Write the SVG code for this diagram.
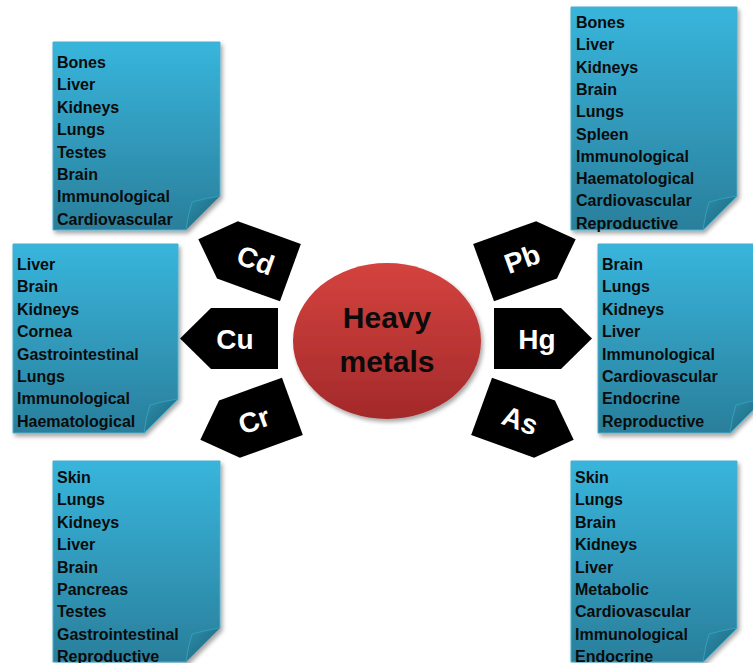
<svg xmlns="http://www.w3.org/2000/svg" xmlns:xlink="http://www.w3.org/1999/xlink" width="753" height="663" viewBox="0 0 753 663">
<defs>
<linearGradient id="boxGrad" x1="0" y1="0" x2="0" y2="1">
<stop offset="0" stop-color="#38b5dc"/>
<stop offset="1" stop-color="#2a7f9b"/>
</linearGradient>
<linearGradient id="flapGrad" x1="0" y1="0" x2="1" y2="1">
<stop offset="0" stop-color="#2c8fac"/>
<stop offset="1" stop-color="#1c6178"/>
</linearGradient>
<linearGradient id="circGrad" x1="0" y1="0" x2="0" y2="1">
<stop offset="0" stop-color="#d4433f"/>
<stop offset="1" stop-color="#a3292a"/>
</linearGradient>
<filter id="shadow" x="-10%" y="-10%" width="130%" height="130%">
<feDropShadow dx="2" dy="3" stdDeviation="2" flood-color="#000" flood-opacity="0.35"/>
</filter>
<polygon id="penL" points="-55,0 -24,-30.5 43,-30.5 43,30.5 -24,30.5"/>
<polygon id="penR" points="55,0 24,-30.5 -43,-30.5 -43,30.5 24,30.5"/>
</defs>
<style>
.box{fill:url(#boxGrad);stroke:#4aaecb;stroke-width:1;filter:url(#shadow)}
.flap{fill:url(#flapGrad);stroke:#3aa3c2;stroke-width:0.8}
.list{font-family:"Liberation Sans",Arial,sans-serif;font-weight:bold;font-size:16px;fill:#0b0b0b}
.pent{fill:#000}
.sym{font-family:"Liberation Sans",Arial,sans-serif;font-weight:bold;font-size:28px;fill:#fff;text-anchor:middle}
.hm{font-family:"Liberation Sans",Arial,sans-serif;font-weight:bold;font-size:30px;fill:#0b0b0b;text-anchor:middle}
</style>
<rect width="753" height="663" fill="#fff"/>
<g id="connectors"/>

<g id="box-cd">
<path class="box" d="M53,42 H220 V196 L186,230 H53 Z"/>
<path class="flap" d="M220,196 L186,230 Q188,214 192,202 Q206,198 220,196 Z"/>
<text class="list" x="57" y="68"><tspan x="57">Bones</tspan><tspan x="57" dy="22.4">Liver</tspan><tspan x="57" dy="22.4">Kidneys</tspan><tspan x="57" dy="22.4">Lungs</tspan><tspan x="57" dy="22.4">Testes</tspan><tspan x="57" dy="22.4">Brain</tspan><tspan x="57" dy="22.4">Immunological</tspan><tspan x="57" dy="22.4">Cardiovascular</tspan></text>
</g>

<g id="box-pb">
<path class="box" d="M571,7 H737 V196 L703,230 H571 Z"/>
<path class="flap" d="M737,196 L703,230 Q705,214 709,202 Q723,198 737,196 Z"/>
<text class="list" x="576" y="28"><tspan x="576">Bones</tspan><tspan x="576" dy="22.3">Liver</tspan><tspan x="576" dy="22.3">Kidneys</tspan><tspan x="576" dy="22.3">Brain</tspan><tspan x="576" dy="22.3">Lungs</tspan><tspan x="576" dy="22.3">Spleen</tspan><tspan x="576" dy="22.3">Immunological</tspan><tspan x="576" dy="22.3">Haematological</tspan><tspan x="576" dy="22.3">Cardiovascular</tspan><tspan x="576" dy="22.3">Reproductive</tspan></text>
</g>

<g id="box-cu">
<path class="box" d="M13,244 H178 V399 L144,433 H13 Z"/>
<path class="flap" d="M178,399 L144,433 Q146,417 150,405 Q164,401 178,399 Z"/>
<text class="list" x="17" y="270"><tspan x="17">Liver</tspan><tspan x="17" dy="22.4">Brain</tspan><tspan x="17" dy="22.4">Kidneys</tspan><tspan x="17" dy="22.4">Cornea</tspan><tspan x="17" dy="22.4">Gastrointestinal</tspan><tspan x="17" dy="22.4">Lungs</tspan><tspan x="17" dy="22.4">Immunological</tspan><tspan x="17" dy="22.4">Haematological</tspan></text>
</g>

<g id="box-hg">
<path class="box" d="M598,244 H764 V399 L730,433 H598 Z"/>
<path class="flap" d="M764,399 L730,433 Q732,417 736,405 Q750,401 764,399 Z"/>
<text class="list" x="602" y="270"><tspan x="602">Brain</tspan><tspan x="602" dy="22.4">Lungs</tspan><tspan x="602" dy="22.4">Kidneys</tspan><tspan x="602" dy="22.4">Liver</tspan><tspan x="602" dy="22.4">Immunological</tspan><tspan x="602" dy="22.4">Cardiovascular</tspan><tspan x="602" dy="22.4">Endocrine</tspan><tspan x="602" dy="22.4">Reproductive</tspan></text>
</g>

<g id="box-cr">
<path class="box" d="M53,461 H220 V628 L186,662 H53 Z"/>
<path class="flap" d="M220,628 L186,662 Q188,646 192,634 Q206,630 220,628 Z"/>
<text class="list" x="57" y="483"><tspan x="57">Skin</tspan><tspan x="57" dy="22.4">Lungs</tspan><tspan x="57" dy="22.4">Kidneys</tspan><tspan x="57" dy="22.4">Liver</tspan><tspan x="57" dy="22.4">Brain</tspan><tspan x="57" dy="22.4">Pancreas</tspan><tspan x="57" dy="22.4">Testes</tspan><tspan x="57" dy="22.4">Gastrointestinal</tspan><tspan x="57" dy="22.4">Reproductive</tspan></text>
</g>

<g id="box-as">
<path class="box" d="M571,461 H737 V628 L703,662 H571 Z"/>
<path class="flap" d="M737,628 L703,662 Q705,646 709,634 Q723,630 737,628 Z"/>
<text class="list" x="575" y="483"><tspan x="575">Skin</tspan><tspan x="575" dy="22.4">Lungs</tspan><tspan x="575" dy="22.4">Brain</tspan><tspan x="575" dy="22.4">Kidneys</tspan><tspan x="575" dy="22.4">Liver</tspan><tspan x="575" dy="22.4">Metabolic</tspan><tspan x="575" dy="22.4">Cardiovascular</tspan><tspan x="575" dy="22.4">Immunological</tspan><tspan x="575" dy="22.4">Endocrine</tspan></text>
</g>

<g id="heavy-metals">
<ellipse cx="387" cy="341" rx="94" ry="78" fill="url(#circGrad)" filter="url(#shadow)"/>
<text class="hm" x="387" y="328">Heavy</text>
<text class="hm" x="387" y="372">metals</text>
</g>

<g id="cd" transform="translate(250,258) rotate(20)">
<use xlink:href="#penL" class="pent"/>
<text class="sym" x="6" y="10">Cd</text>
</g>
<g id="cu" transform="translate(235,338.5)">
<use xlink:href="#penL" class="pent"/>
<text class="sym" x="0" y="10">Cu</text>
</g>
<g id="cr" transform="translate(252,421) rotate(-20)">
<use xlink:href="#penL" class="pent"/>
<text class="sym" x="2" y="10">Cr</text>
</g>
<g id="pb" transform="translate(524,258) rotate(-20)">
<use xlink:href="#penR" class="pent"/>
<text class="sym" x="-2" y="10">Pb</text>
</g>
<g id="hg" transform="translate(537,338.5)">
<use xlink:href="#penR" class="pent"/>
<text class="sym" x="0" y="10">Hg</text>
</g>
<g id="as" transform="translate(522,421) rotate(20)">
<use xlink:href="#penR" class="pent"/>
<text class="sym" x="-2" y="10">As</text>
</g>
</svg>
